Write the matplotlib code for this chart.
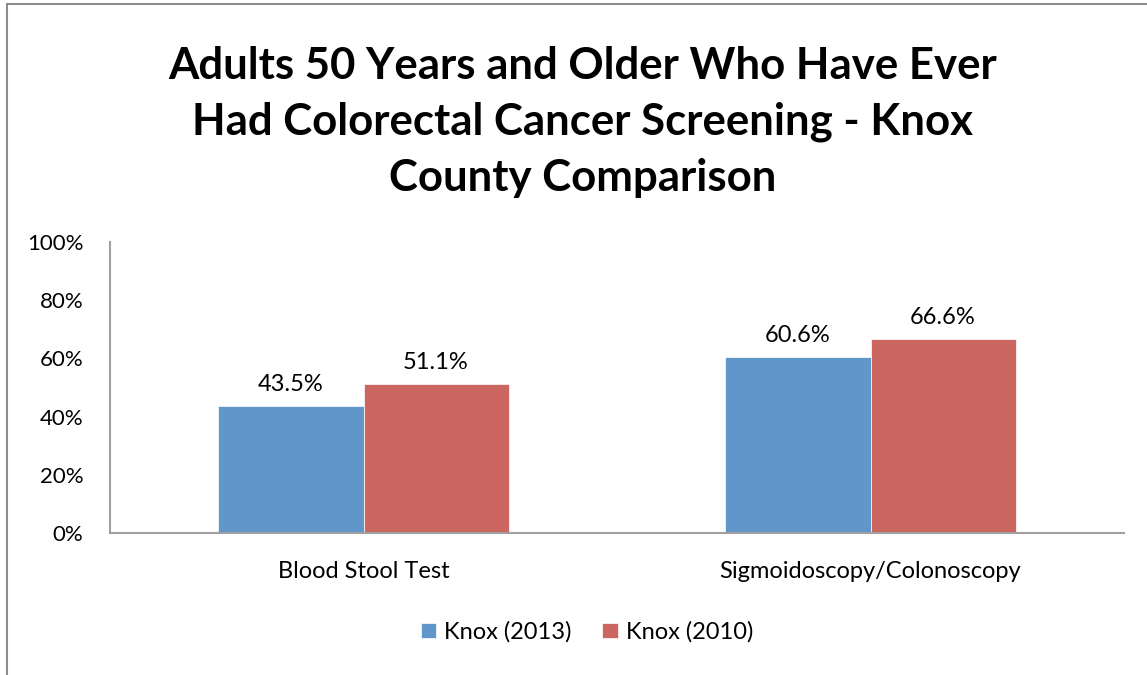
import matplotlib
matplotlib.use("Agg")
import matplotlib.pyplot as plt
from matplotlib.patches import Rectangle
import numpy as np

categories = ["Blood Stool Test", "Sigmoidoscopy/Colonoscopy"]
series_names = ["Knox (2013)", "Knox (2010)"]
knox_2013 = [43.5, 60.6]
knox_2010 = [51.1, 66.6]
yticks = [0, 20, 40, 60, 80, 100]
title = "Adults 50 Years and Older Who Have Ever\nHad Colorectal Cancer Screening - Knox\nCounty Comparison"

colors = ["#6096C9", "#CC6660"]
FONT = "Lato"

fig = plt.figure(figsize=(11.47, 6.75), dpi=100)
ax = fig.add_axes([110/1147, 1-533/675, (1124-110)/1147, (533-242)/675])

x = np.arange(len(categories))
w = 0.286
bars = []
for i, (vals, c, name) in enumerate(zip([knox_2013, knox_2010], colors, series_names)):
    b = ax.bar(x + (i - 0.5) * w, vals, width=w, color=c, label=name,
               edgecolor="white", linewidth=0.5)
    bars.append(b)
    for xi, v in zip(x + (i - 0.5) * w, vals):
        ax.annotate(f"{v:.1f}%", (xi, v), xytext=(0, 8), textcoords="offset points",
                    ha="center", va="bottom", fontsize=17, family=FONT, color="#000000")

ax.set_xlim(-0.5, 1.5)
ax.set_ylim(0, 100)
ax.set_yticks(yticks)
ax.set_yticklabels([f"{t}%" for t in yticks], fontsize=16, family=FONT)
ax.set_xticks(x)
ax.set_xticklabels(categories, fontsize=17, family=FONT)
ax.tick_params(axis="both", length=0)
ax.tick_params(axis="y", pad=19)
ax.tick_params(axis="x", pad=20)
for s in ["top", "right"]:
    ax.spines[s].set_visible(False)
for s in ["left", "bottom"]:
    ax.spines[s].set_color("#A0A0A0")
    ax.spines[s].set_linewidth(1.5)

fig.text(583/1147, 1-122/675, title, ha="center", va="center", fontsize=31.5,
         fontweight="bold", family=FONT, linespacing=1.48)

fig.legend(handles=bars, labels=series_names, loc="center", bbox_to_anchor=(587/1147, 1-632/675),
           ncol=2, frameon=False, prop={"family": FONT, "size": 17},
           handlelength=0.65, handleheight=0.65, handletextpad=0.35, columnspacing=1.3)

border = Rectangle((7/1147, -0.1), 1.2, 1-4/675 + 0.1, transform=fig.transFigure,
                   fill=False, edgecolor="#8C8C8C", linewidth=1.5)
fig.add_artist(border)

fig.savefig("out.png", dpi=100)
